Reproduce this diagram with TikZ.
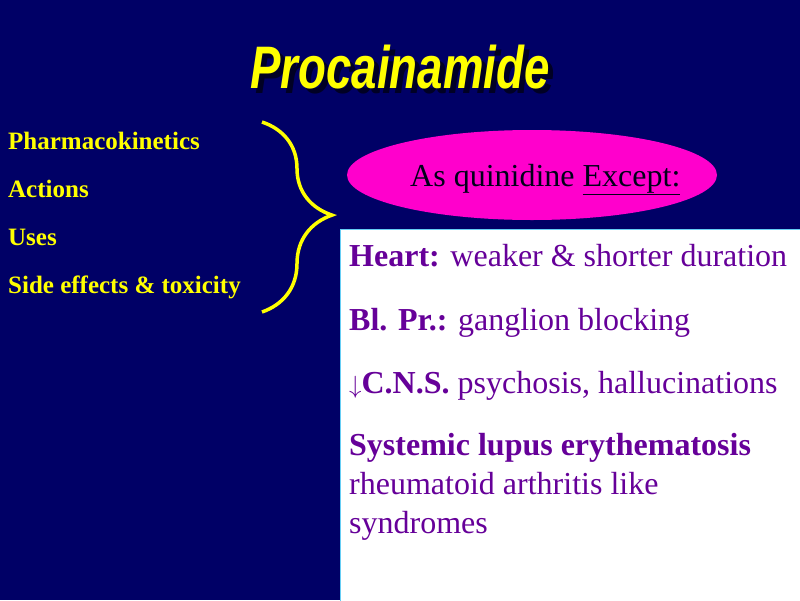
\documentclass[tikz,border=0pt]{standalone}
\usepackage{fontspec}
\setmainfont{Liberation Serif}
\newfontfamily\titlefont{Liberation Sans}
\usetikzlibrary{decorations.pathreplacing,shapes.geometric}
\definecolor{navy}{HTML}{000066}
\definecolor{ylw}{HTML}{FFFF00}
\definecolor{mag}{HTML}{FF00CC}
\definecolor{purp}{HTML}{660099}
\tikzset{x=1pt,y=-1pt,
 lst/.style={anchor=base west,text=ylw,font=\bfseries\fontsize{25}{28}\selectfont,inner sep=0},
 box/.style={anchor=base west,text=purp,font=\fontsize{32}{39}\selectfont,inner sep=0,align=left},
 ttl/.style={anchor=center,font=\titlefont\bfseries\itshape\fontsize{60}{64}\selectfont,xscale=0.76}}
\begin{document}
\begin{tikzpicture}
\path[use as bounding box,fill=navy] (0,0) rectangle (800,600);
\clip (0,0) rectangle (800,600);
\node[ttl,text=black!65!navy] (ts) at (405,72) {Procainamide};
\node[ttl,text=ylw] (t) at (400,67) {Procainamide};
\node[lst] (l1) at (8,149) {Pharmacokinetics};
\node[lst] (l2) at (8,197) {Actions};
\node[lst] (l3) at (8,245) {Uses};
\node[lst] (l4) at (8,293) {Side effects \& toxicity};
\draw[ylw,line width=3.5pt,decorate,decoration={brace,amplitude=70pt,aspect=0.49}] (262,122) -- (262,312);
\node[ellipse,fill=mag,minimum width=370,minimum height=90,inner sep=0] (e) at (532,175) {};
\node[anchor=base west,font=\fontsize{32}{34}\selectfont,text=black!75!navy,inner sep=0] (et) at (410,186) {As quinidine \underline{Except:}};
\node[draw=cyan!60,fill=white,minimum width=470,minimum height=372,anchor=north west,inner sep=0] (b) at (340,229) {};
\node[box] (h) at (349,266) {\textbf{Heart:} weaker \& shorter duration};
\node[box] (bp) at (349,330) {\textbf{Bl. Pr.:} ganglion blocking};
\node[box] (c) at (349,393) {$\downarrow$\textbf{C.N.S.} psychosis, hallucinations};
\node[box,anchor=north west] (s) at (349,433) {\textbf{Systemic lupus erythematosis}\\rheumatoid arthritis like\\syndromes};
\end{tikzpicture}
\end{document}
